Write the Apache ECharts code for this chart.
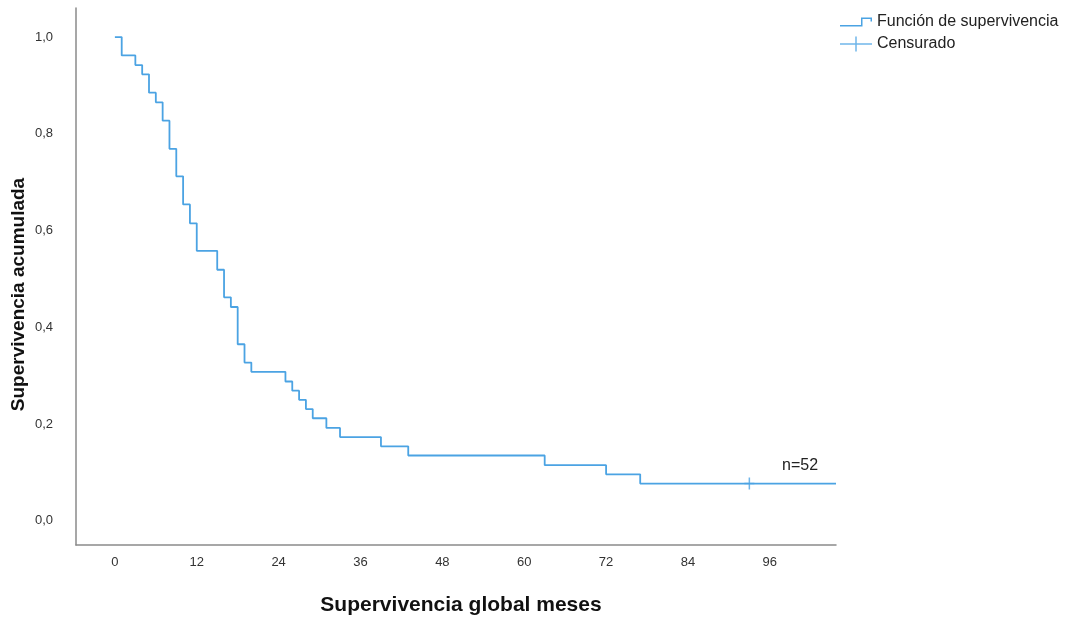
<!DOCTYPE html>
<html>
<head>
<meta charset="utf-8">
<script src="https://cdn.jsdelivr.net/npm/echarts@6/dist/echarts.min.js"></script>
<style>
html,body{margin:0;padding:0;background:#fff;}
#chart{width:1073px;height:618px;}
</style>
</head>
<body>
<div id="chart"></div>
<script>
// Kaplan-Meier step data (months, cumulative survival)
var months = [0, 1, 3, 4, 5, 6, 7, 8, 9, 10, 11, 12, 15, 16, 17, 18, 19, 20, 25, 26, 27, 28, 29, 31, 33, 39, 43, 63, 72, 77, 105.7];
var survival = [1.0, 0.962, 0.942, 0.923, 0.885, 0.865, 0.827, 0.769, 0.712, 0.654, 0.615, 0.558, 0.519, 0.462, 0.442, 0.365, 0.327, 0.308, 0.288, 0.269, 0.250, 0.231, 0.212, 0.192, 0.173, 0.154, 0.135, 0.115, 0.096, 0.077, 0.077];
var censoredMonths = [93];
var censoredSurvival = [0.077];
var xTicks = [0, 12, 24, 36, 48, 60, 72, 84, 96];
var yTicks = [0, 0.2, 0.4, 0.6, 0.8, 1.0];
var seriesNames = ['Función de supervivencia', 'Censurado'];
var nLabel = 'n=52';

var lineColor = '#4ba3e3';
var font = '"Liberation Sans", Arial, sans-serif';

var chart = echarts.init(document.getElementById('chart'), null, {renderer: 'canvas'});
var lineData = months.map(function (m, i) { return [m, survival[i]]; });
var censData = censoredMonths.map(function (m, i) { return [m, censoredSurvival[i]]; });

chart.setOption({
  animation: false,
  backgroundColor: '#fff',
  textStyle: {fontFamily: font},
  title: {
    text: nLabel,
    left: 777, top: 453,
    textStyle: {fontFamily: font, fontSize: 16, fontWeight: 'normal', color: '#222'}
  },
  legend: [{
    data: [seriesNames[0]],
    left: 840, top: 14, padding: 0,
    itemWidth: 32, itemHeight: 9, itemGap: 4,
    icon: 'path://M0,7.5H21V0H32V4H30.5V1.5H22.5V9H0Z',
    itemStyle: {borderWidth: 0},
    textStyle: {fontFamily: font, fontSize: 16, color: '#222'}
  }, {
    data: [seriesNames[1]],
    left: 840, top: 36, padding: 0,
    itemWidth: 32, itemHeight: 15, itemGap: 4,
    icon: 'path://M0,6.75H32V8.25H0Z M15.25,0H16.75V15H15.25Z',
    itemStyle: {borderWidth: 0},
    textStyle: {fontFamily: font, fontSize: 16, color: '#222'}
  }],
  grid: {left: 76, right: 237, top: 8, bottom: 73, containLabel: false, outerBoundsMode: 'none'},
  xAxis: {
    type: 'value',
    min: -5.7, max: 105.7,
    name: 'Supervivencia global meses',
    nameLocation: 'middle',
    nameGap: 50,
    nameTextStyle: {fontFamily: font, fontSize: 21, fontWeight: 'bold', color: '#111', padding: [0, 0, 0, 10]},
    axisLine: {show: true, onZero: false, lineStyle: {color: '#8a8a8a', width: 1.5}},
    axisTick: {show: false},
    splitLine: {show: false},
    axisLabel: {
      customValues: xTicks,
      margin: 11,
      fontFamily: font, fontSize: 13, color: '#333',
      showMinLabel: true, showMaxLabel: true
    }
  },
  yAxis: {
    type: 'value',
    min: -0.05, max: 1.06,
    name: 'Supervivencia acumulada',
    nameLocation: 'middle',
    nameGap: 48,
    nameMoveOverlap: false,
    nameTextStyle: {fontFamily: font, fontSize: 19, fontWeight: 'bold', color: '#111', padding: [0, 36, 0, 0]},
    axisLine: {show: true, onZero: false, lineStyle: {color: '#8a8a8a', width: 1.5}},
    axisTick: {show: false},
    splitLine: {show: false},
    axisLabel: {
      customValues: yTicks,
      margin: 23,
      fontFamily: font, fontSize: 13, color: '#333',
      formatter: function (v) { return v.toFixed(1).replace('.', ','); }
    }
  },
  series: [{
    name: seriesNames[0],
    type: 'line',
    step: 'end',
    data: lineData,
    showSymbol: false,
    symbol: 'none',
    color: lineColor,
    lineStyle: {color: lineColor, width: 1.8},
    itemStyle: {color: lineColor}
  }, {
    name: seriesNames[1],
    type: 'scatter',
    data: censData,
    symbol: 'path://M0,5.25H10V6.75H0Z M4.25,0H5.75V12H4.25Z',
    symbolSize: [10, 12],
    color: lineColor,
    itemStyle: {color: lineColor}
  }]
});
</script>
</body>
</html>
